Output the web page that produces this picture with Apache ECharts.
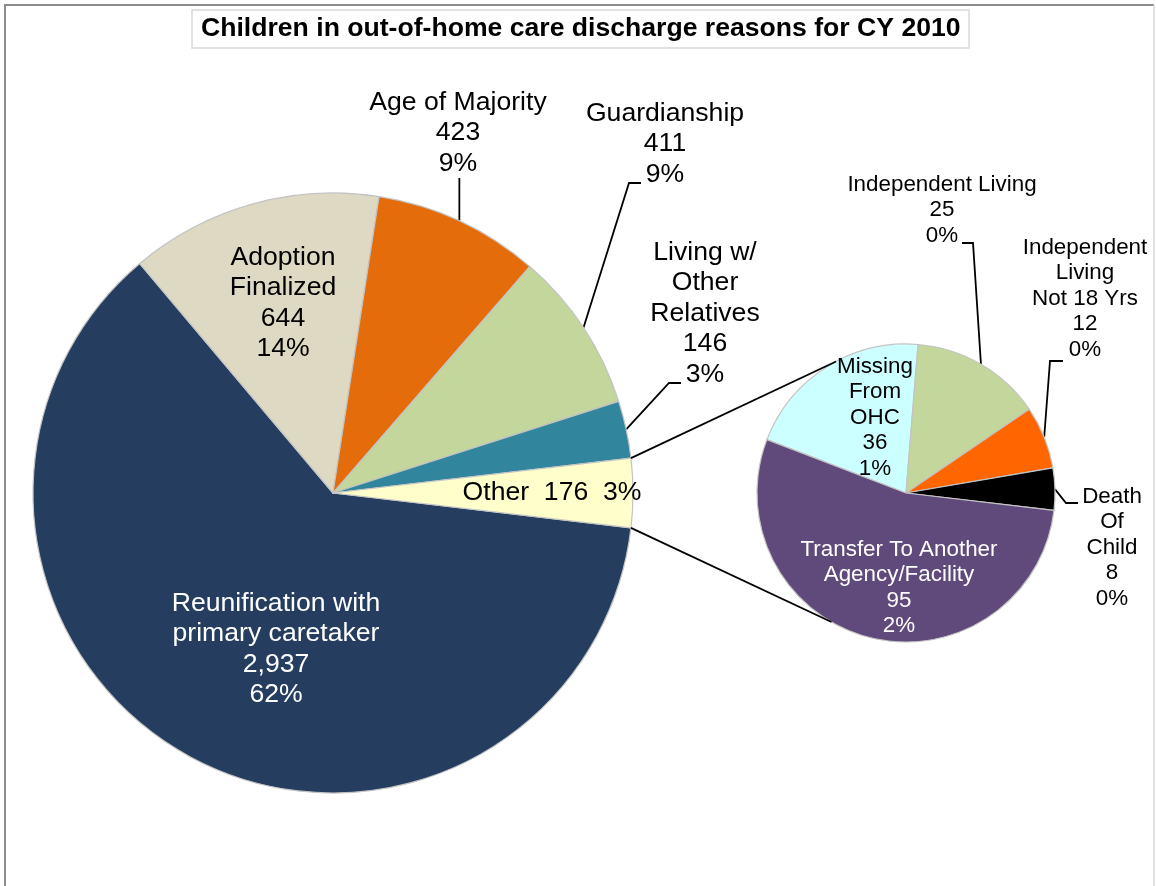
<!DOCTYPE html>
<html><head><meta charset="utf-8">
<script src="https://cdn.jsdelivr.net/npm/echarts@6/dist/echarts.min.js"></script>
<style>html,body{margin:0;padding:0;background:#fff}#c{width:1156px;height:886px}</style>
</head><body><div id="c"></div>
<script>
// ---- data ----
const titleText = 'Children in out-of-home care discharge reasons for CY 2010';
const mainNames = ['Reunification with\nprimary caretaker', 'Adoption\nFinalized', 'Age of Majority', 'Guardianship', 'Living w/\nOther\nRelatives', 'Other'];
const mainValues = [2937, 644, 423, 411, 146, 176];
const mainPct = ['62%', '14%', '9%', '9%', '3%', '3%'];
const subNames = ['Missing\nFrom\nOHC', 'Independent Living', 'Independent\nLiving\nNot 18 Yrs', 'Death\nOf\nChild', 'Transfer To Another\nAgency/Facility'];
const subValues = [36, 25, 12, 8, 95];
const subPct = ['1%', '0%', '0%', '0%', '2%'];

// ---- styles & layout ----
const mainColors = ['#253E5F', '#DDD9C3', '#E46C0A', '#C3D69B', '#31859C', '#FFFFCC'];
const subColors = ['#CCFFFF', '#C3D69B', '#FF6600', '#000000', '#604A7B'];
const FONT = '"Liberation Sans", Arial, sans-serif';
const MAIN = { cx: 333, cy: 493, r: 300 };
const SUB = { cx: 906, cy: 493, r: 149, start: 159 };
const otherIdx = mainValues.length - 1;
const mainTotal = mainValues.reduce((a, b) => a + b, 0);
const subTotal = subValues.reduce((a, b) => a + b, 0);
const otherHalf = mainValues[otherIdx] / mainTotal * 180;
const MAIN_START = -otherHalf;   // Reunification starts just below "Other" and runs clockwise

const mainLabelPos = [
  { x: 276, y: 588, color: '#fff' },
  { x: 283, y: 242 },
  { x: 458, y: 87, line: [[null, 178]] },
  { x: 665, y: 98, line: [[629, 183], [641, 183]] },
  { x: 705, y: 237, line: [[669, 383], [681, 383]] },
  { x: 552, y: 493, va: 'middle' }
];
const subLabelPos = [
  { x: 875, y: 354 },
  { x: 942, y: 172, line: [[973, 243], [962, 243]] },
  { x: 1085, y: 235, line: [[1050, 361], [1063, 361]] },
  { x: 1112, y: 484, line: [[1066, 503], [1078, 503]] },
  { x: 899, y: 537, color: '#fff' }
];

function midPoints(values, total, start, geo) {
  let a = start; const pts = [];
  values.forEach(v => {
    const span = v / total * 360;
    const m = (a - span / 2) * Math.PI / 180;
    pts.push([geo.cx + geo.r * Math.cos(m), geo.cy - geo.r * Math.sin(m)]);
    a -= span;
  });
  return pts;
}
const mainMid = midPoints(mainValues, mainTotal, MAIN_START, MAIN);
const subMid = midPoints(subValues, subTotal, SUB.start, SUB);

function buildData(names, values, colors, pos) {
  return names.map((n, i) => {
    const p = pos[i];
    return {
      name: n, value: values[i],
      itemStyle: { color: colors[i] },
      label: { position: p.line ? 'outside' : 'inside', color: p.color || '#000' },
      labelLine: { show: !!p.line }
    };
  });
}
function layoutFn(pos, mids) {
  return function (params) {
    const p = pos[params.dataIndex];
    const res = { x: p.x, y: p.y, align: 'center', verticalAlign: p.va || 'top' };
    if (p.line) {
      const s = mids[params.dataIndex];
      const pts = p.line.map(q => [q[0] == null ? s[0] : q[0], q[1]]);
      if (pts.length === 1) pts.push(pts[0]);
      res.labelLinePoints = [s, pts[0], pts[1]];
    }
    return res;
  };
}

const upA = otherHalf * Math.PI / 180;
const subUp = 118 * Math.PI / 180, subDn = -120 * Math.PI / 180;
const conn = [
  [[MAIN.cx + MAIN.r * Math.cos(upA), MAIN.cy - MAIN.r * Math.sin(upA)], [SUB.cx + SUB.r * Math.cos(subUp), SUB.cy - SUB.r * Math.sin(subUp)]],
  [[MAIN.cx + MAIN.r * Math.cos(-upA), MAIN.cy - MAIN.r * Math.sin(-upA)], [SUB.cx + SUB.r * Math.cos(subDn), SUB.cy - SUB.r * Math.sin(subDn)]]
];

const chart = echarts.init(document.getElementById('c'), null, { renderer: 'canvas' });
chart.setOption({
  animation: false,
  backgroundColor: '#fff',
  title: {
    text: titleText, left: 192, top: 10, padding: [5, 9],
    borderColor: '#d9d9d9', borderWidth: 1.5,
    textStyle: { fontFamily: FONT, fontSize: 26.6, fontWeight: 'bold', color: '#000', lineHeight: 28 }
  },
  graphic: [
    { type: 'polyline', silent: true, shape: { points: [[5, 900], [5, 5], [1154, 5]] }, style: { stroke: '#8c8c8c', lineWidth: 2, fill: null } },
    { type: 'line', silent: true, shape: { x1: 1154, y1: 5, x2: 1154, y2: 900 }, style: { stroke: '#d9d9d9', lineWidth: 1.5 } },
    { type: 'line', silent: true, z: 10, shape: { x1: conn[0][0][0], y1: conn[0][0][1], x2: conn[0][1][0], y2: conn[0][1][1] }, style: { stroke: '#000', lineWidth: 1.8 } },
    { type: 'line', silent: true, z: 10, shape: { x1: conn[1][0][0], y1: conn[1][0][1], x2: conn[1][1][0], y2: conn[1][1][1] }, style: { stroke: '#000', lineWidth: 1.8 } }
  ],
  series: [
    {
      type: 'pie', center: [MAIN.cx, MAIN.cy], radius: MAIN.r,
      startAngle: MAIN_START, clockwise: true, avoidLabelOverlap: false,
      itemStyle: { borderColor: '#c4c4c4', borderWidth: 1.2 },
      label: {
        fontFamily: FONT, fontSize: 26.6, lineHeight: 30.5, align: 'center',
        formatter: p => p.dataIndex === otherIdx
          ? `${p.name}  ${p.value.toLocaleString('en-US')}  ${mainPct[p.dataIndex]}`
          : `${p.name}\n${p.value.toLocaleString('en-US')}\n${mainPct[p.dataIndex]}`
      },
      labelLine: { lineStyle: { color: '#000', width: 1.8 } },
      labelLayout: layoutFn(mainLabelPos, mainMid),
      emphasis: { disabled: true },
      data: buildData(mainNames, mainValues, mainColors, mainLabelPos)
    },
    {
      type: 'pie', center: [SUB.cx, SUB.cy], radius: SUB.r,
      startAngle: SUB.start, clockwise: true, avoidLabelOverlap: false,
      itemStyle: { borderColor: '#c4c4c4', borderWidth: 1.2 },
      label: {
        fontFamily: FONT, fontSize: 22.4, lineHeight: 25.5, align: 'center',
        formatter: p => `${p.name}\n${p.value.toLocaleString('en-US')}\n${subPct[p.dataIndex]}`
      },
      labelLine: { lineStyle: { color: '#000', width: 1.8 } },
      labelLayout: layoutFn(subLabelPos, subMid),
      emphasis: { disabled: true },
      data: buildData(subNames, subValues, subColors, subLabelPos)
    }
  ]
});
</script>
</body></html>
